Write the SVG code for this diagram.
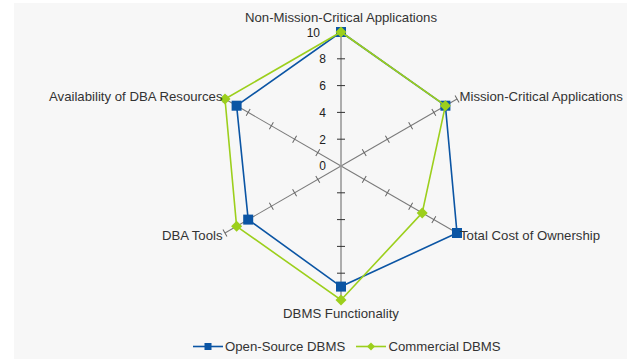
<svg xmlns="http://www.w3.org/2000/svg" width="627" height="359" viewBox="0 0 627 359">
<style>
text{font-family:"Liberation Sans",Arial,sans-serif;font-size:13.2px;fill:#333}
.num{text-anchor:end;font-size:12px;fill:#222}
.ax{stroke:#7a7a7a;stroke-width:1;fill:none}
.tk{stroke:#666;stroke-width:1}
.vax{stroke:#9a9a9a;stroke-width:1.6}
.vtk{stroke:#333;stroke-width:1}
.blue{stroke:#0b55a4;stroke-width:1.6;fill:none}
.green{stroke:#9ccf1c;stroke-width:1.6;fill:none}
.bm{fill:#0b55a4}
.gm{fill:#9ccf1c}
</style>
<defs>
<g id="diag">
<line class="ax" x1="0" y1="0" x2="0" y2="-134"/>
<path class="tk" d="M-4,-26.8H4M-4,-53.6H4M-4,-80.4H4M-4,-107.2H4M-4,-134H4"/>
</g>
<rect id="sq" x="-5" y="-5" width="10" height="10"/>
<polygon id="dm" points="0,-5.5 5.5,0 0,5.5 -5.5,0"/>
</defs>
<rect x="14" y="3" width="613" height="356" fill="#f7f7f7"/>
<g id="axes">
<use href="#diag" transform="translate(341,166) rotate(60)"/>
<use href="#diag" transform="translate(341,166) rotate(120)"/>
<use href="#diag" transform="translate(341,166) rotate(240)"/>
<use href="#diag" transform="translate(341,166) rotate(300)"/>
<line class="vax" x1="341" y1="32" x2="341" y2="300"/>
<path class="vtk" d="M337,139.2H345M337,112.4H345M337,85.6H345M337,58.8H345M337,32H345M337,192.8H345M337,219.6H345M337,246.4H345M337,273.2H345M337,300H345"/>
<text class="num" x="326" y="170.3">0</text>
<text class="num" x="326" y="143.5">2</text>
<text class="num" x="326" y="116.7">4</text>
<text class="num" x="326" y="89.9">6</text>
<text class="num" x="326" y="63.1">8</text>
<text class="num" x="320" y="36.5">10</text>
</g>
<g id="series-open-source">
<polygon class="blue" points="341,32 445.4,105.7 457,233 341,286.6 248.2,219.6 236.6,105.7"/>
<use href="#sq" class="bm" x="341" y="32"/>
<use href="#sq" class="bm" x="445.4" y="105.7"/>
<use href="#sq" class="bm" x="457" y="233"/>
<use href="#sq" class="bm" x="341" y="286.6"/>
<use href="#sq" class="bm" x="248.2" y="219.6"/>
<use href="#sq" class="bm" x="236.6" y="105.7"/>
</g>
<g id="series-commercial">
<polygon class="green" points="341,32 445.4,105.7 422.2,212.9 341,300 236.6,226.3 225,99"/>
<use href="#dm" class="gm" x="341" y="32"/>
<use href="#dm" class="gm" x="445.4" y="105.7"/>
<use href="#dm" class="gm" x="422.2" y="212.9"/>
<use href="#dm" class="gm" x="341" y="300"/>
<use href="#dm" class="gm" x="236.6" y="226.3"/>
<use href="#dm" class="gm" x="225" y="99"/>
</g>
<g id="category-labels">
<text id="lbl-non-mission" x="341" y="22" text-anchor="middle">Non-Mission-Critical Applications</text>
<text id="lbl-mission" x="459.5" y="100.5">Mission-Critical Applications</text>
<text id="lbl-tco" x="460" y="239.5">Total Cost of Ownership</text>
<text id="lbl-func" x="341" y="318" text-anchor="middle">DBMS Functionality</text>
<text id="lbl-tools" x="222.5" y="240" text-anchor="end">DBA Tools</text>
<text id="lbl-avail" x="222.5" y="100.5" text-anchor="end">Availability of DBA Resources</text>
</g>
<g id="legend">
<line class="blue" x1="193" y1="346.5" x2="223" y2="346.5"/>
<rect class="bm" x="204.5" y="343" width="7" height="7"/>
<text x="225" y="351">Open-Source DBMS</text>
<line class="green" x1="356" y1="346.5" x2="386" y2="346.5"/>
<polygon class="gm" points="371,342.5 375,346.5 371,350.5 367,346.5"/>
<text x="388.5" y="351">Commercial DBMS</text>
</g>
</svg>
